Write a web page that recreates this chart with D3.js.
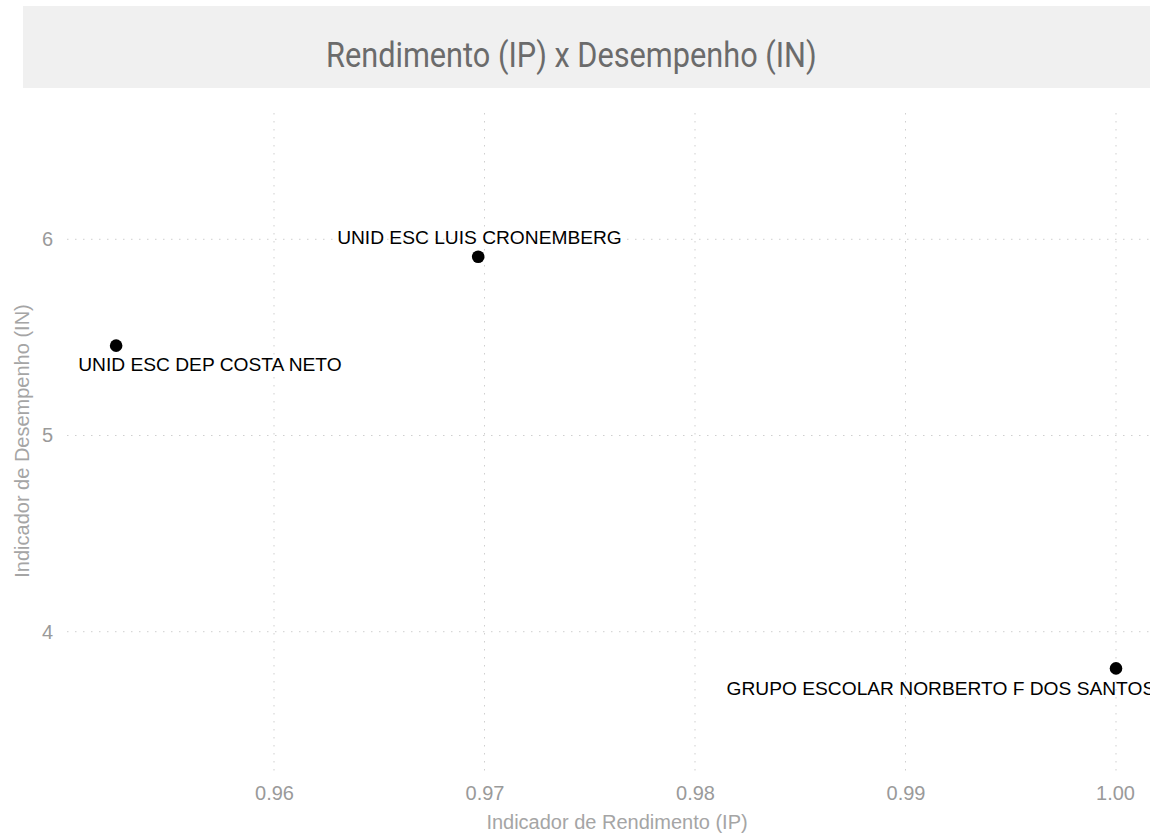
<!DOCTYPE html>
<html>
<head>
<meta charset="utf-8">
<script src="https://cdn.jsdelivr.net/npm/d3@7"></script>
<style>
  html, body { margin: 0; padding: 0; background: #ffffff; }
  svg { display: block; }
</style>
</head>
<body>
<svg id="chart" width="1150" height="835"></svg>
<script>
// ---- data ----
const schools = ["UNID ESC DEP COSTA NETO", "UNID ESC LUIS CRONEMBERG", "GRUPO ESCOLAR NORBERTO F DOS SANTOS"];
const ipValues = [0.9525, 0.9697, 1.0000];   // Indicador de Rendimento (IP)
const inValues = [5.458, 5.911, 3.813];      // Indicador de Desempenho (IN)
const labelIp = [0.9507, 0.9630, 0.9815];    // label anchor (start) in data units
const labelIn = [5.364, 6.009, 3.711];
const xTicks = [0.96, 0.97, 0.98, 0.99, 1.00];
const xTickLabels = ["0.96", "0.97", "0.98", "0.99", "1.00"];
const yTicks = [4, 5, 6];
const yTickLabels = ["4", "5", "6"];
const titleText = "Rendimento (IP) x Desempenho (IN)";
const xTitle = "Indicador de Rendimento (IP)";
const yTitle = "Indicador de Desempenho (IN)";

const svg = d3.select("#chart");
const W = 1150, H = 835;
const plot = { left: 67, right: 1150, top: 113, bottom: 773 };

const x = d3.scaleLinear().domain([0.950166, 1.001615]).range([plot.left, plot.right]);
const y = d3.scaleLinear().domain([3.2798, 6.6437]).range([plot.bottom, plot.top]);

// title band
svg.append("rect").attr("x", 23).attr("y", 6).attr("width", W - 23).attr("height", 82).attr("fill", "#f0f0f0");
const titleG = svg.append("g");
const title = titleG.append("text")
  .attr("x", 0).attr("y", 0)
  .attr("text-anchor", "start")
  .attr("fill", "#6b6b6b")
  .style("font-family", "Roboto, 'Liberation Sans', sans-serif")
  .style("font-size", "35px")
  .text(titleText);
{
  const w = title.node().getComputedTextLength();
  const sx = 491 / w;
  titleG.attr("transform", `translate(326, 67) scale(${sx.toFixed(4)}, 1)`);
}

// grid
const grid = svg.append("g");
grid.selectAll("line.vx").data(xTicks).join("line")
  .attr("x1", d => x(d)).attr("x2", d => x(d))
  .attr("y1", plot.top).attr("y2", plot.bottom)
  .attr("stroke", "#cfcfcf").attr("stroke-width", 1).attr("stroke-dasharray", "1.5,6.5");
grid.selectAll("line.hy").data(yTicks).join("line")
  .attr("x1", plot.left).attr("x2", plot.right)
  .attr("y1", d => y(d)).attr("y2", d => y(d))
  .attr("stroke", "#cfcfcf").attr("stroke-width", 1).attr("stroke-dasharray", "1.5,6.5");

// axes (tick labels only)
const fontAxis = "'Liberation Sans', Arial, sans-serif";
const xAxis = d3.axisBottom(x).tickValues(xTicks).tickFormat((d, i) => xTickLabels[i]).tickSize(0).tickPadding(0);
const gx = svg.append("g").attr("transform", `translate(0, ${plot.bottom + 13})`).call(xAxis);
gx.select(".domain").remove();
gx.selectAll("text").attr("fill", "#9a9a9a").style("font-family", fontAxis).style("font-size", "20px")
  .attr("dy", "0.71em");
gx.selectAll("text").filter((d, i) => i === xTicks.length - 1).attr("dx", -1);

const yAxis = d3.axisLeft(y).tickValues(yTicks).tickFormat((d, i) => yTickLabels[i]).tickSize(0).tickPadding(0);
const gy = svg.append("g").attr("transform", `translate(53, 0)`).call(yAxis);
gy.select(".domain").remove();
gy.selectAll("text").attr("fill", "#9a9a9a").style("font-family", fontAxis).style("font-size", "20px");

// axis titles
svg.append("text").attr("x", 617).attr("y", 822)
  .attr("text-anchor", "middle").attr("dominant-baseline", "central")
  .attr("fill", "#a5a5a5").style("font-family", fontAxis).style("font-size", "20px")
  .text(xTitle);
svg.append("text").attr("transform", "translate(22, 441) rotate(-90)")
  .attr("text-anchor", "middle").attr("dominant-baseline", "central")
  .attr("fill", "#a5a5a5").style("font-family", fontAxis).style("font-size", "20px")
  .text(yTitle);

// points
const data = schools.map((s, i) => ({ s, ip: ipValues[i], in: inValues[i], lx: labelIp[i], ly: labelIn[i] }));
svg.append("g").selectAll("circle").data(data).join("circle")
  .attr("cx", d => x(d.ip)).attr("cy", d => y(d.in)).attr("r", 6.3).attr("fill", "#000");

// labels
svg.append("g").selectAll("text").data(data).join("text")
  .attr("x", d => x(d.lx)).attr("y", d => y(d.ly))
  .attr("dominant-baseline", "central")
  .attr("fill", "#000").style("font-family", fontAxis).style("font-size", "19.2px")
  .text(d => d.s);
</script>
</body>
</html>
